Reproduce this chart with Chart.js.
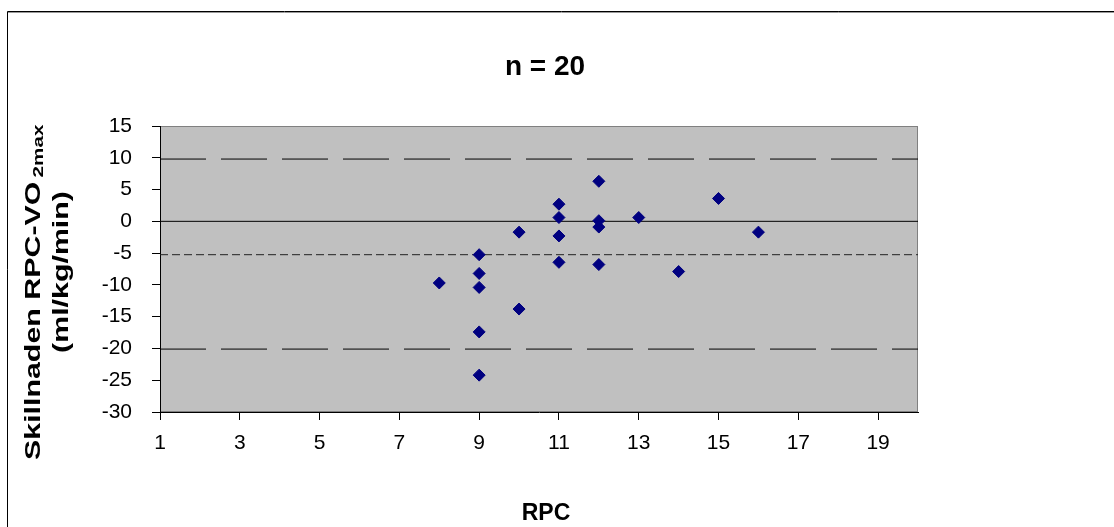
<!DOCTYPE html>
<html>
<head>
<meta charset="utf-8">
<script src="https://cdn.jsdelivr.net/npm/chart.js@4/dist/chart.umd.min.js"></script>
<style>
  html, body { margin: 0; padding: 0; background: #fff; }
  #wrap { position: relative; width: 1114px; height: 527px; }
</style>
</head>
<body>
<div id="wrap"><canvas id="chart"></canvas></div>
<script>
// RPC value and difference RPC - VO2max for each subject
const rpc = [8, 9, 9, 9, 9, 9, 10, 10, 11, 11, 11, 11, 12, 12, 12, 12, 13, 14, 15, 16];
const diff = [-9.7, -5.25, -8.2, -10.4, -17.4, -24.2, -1.7, -13.8, 2.7, 0.6, -2.3, -6.45, 6.3, 0.1, -0.9, -6.8, 0.6, -7.9, 3.6, -1.7];

// reference lines: zero, mean difference and limits of agreement
const xRange = [1, 20];
const zeroLine = 0;
const meanDiff = -5.25;
const upperLimit = 9.8;
const lowerLimit = -20.1;

const xTicks = [1, 3, 5, 7, 9, 11, 13, 15, 17, 19];
const yTicks = [-30, -25, -20, -15, -10, -5, 0, 5, 10, 15];

const FONT = 'Arial, "Liberation Sans", sans-serif';

function hLine(y) { return xRange.map(x => ({ x, y })); }

const plotBg = {
  id: 'plotBg',
  beforeDraw(chart) {
    const { ctx, chartArea: a } = chart;
    ctx.save();
    ctx.fillStyle = '#c0c0c0';
    ctx.fillRect(a.left, a.top, a.right - a.left, a.bottom - a.top);
    ctx.strokeStyle = '#808080';
    ctx.lineWidth = 1;
    ctx.strokeRect(a.left + 0.5, a.top + 0.5, a.right - a.left - 1, a.bottom - a.top - 1);
    ctx.restore();
  },
  afterDraw(chart) {
    const ctx = chart.ctx;
    ctx.save();
    // outer frame
    ctx.strokeStyle = '#000';
    ctx.lineWidth = 1;
    ctx.beginPath();
    ctx.moveTo(7.5, 600); ctx.lineTo(7.5, 11.5); ctx.lineTo(1200, 11.5);
    ctx.stroke();
    ctx.strokeStyle = '#999';
    ctx.beginPath();
    ctx.moveTo(8, 12.5); ctx.lineTo(1200, 12.5);
    ctx.stroke();

    ctx.fillStyle = '#000';
    // chart title
    ctx.font = 'bold 28px ' + FONT;
    ctx.textAlign = 'center';
    ctx.textBaseline = 'alphabetic';
    ctx.fillText('n = 20', 545, 75);
    // x title
    ctx.font = 'bold 23px ' + FONT;
    ctx.fillText('RPC', 546, 520);

    // y title, two rotated lines, first with subscript
    const stretch = 1.38;
    ctx.save();
    ctx.translate(40, 460);
    ctx.rotate(-Math.PI / 2);
    ctx.scale(stretch, 1);
    ctx.textAlign = 'left';
    ctx.font = 'bold 22px ' + FONT;
    const main = 'Skillnaden RPC-VO';
    ctx.fillText(main, 0, 0);
    const w = ctx.measureText(main).width;
    ctx.font = 'bold 15px ' + FONT;
    ctx.fillText('2max', w + 3, 3);
    ctx.restore();

    ctx.save();
    ctx.translate(68, 272);
    ctx.rotate(-Math.PI / 2);
    ctx.scale(stretch, 1);
    ctx.textAlign = 'center';
    ctx.font = 'bold 22px ' + FONT;
    ctx.fillText('(ml/kg/min)', 0, 0);
    ctx.restore();
    ctx.restore();
  }
};

const refStyle = { type: 'line', borderColor: '#000', borderWidth: 1, pointRadius: 0, fill: false, order: 2 };

new Chart(document.getElementById('chart').getContext('2d'), {
  type: 'scatter',
  data: {
    datasets: [
      { label: 'Skillnad', data: rpc.map((x, i) => ({ x, y: diff[i] })), pointStyle: 'rectRot', pointRadius: 6, pointHoverRadius: 6,
        backgroundColor: '#000080', borderColor: '#000080', borderWidth: 1, order: 1 },
      Object.assign({ label: 'Noll', data: hLine(zeroLine) }, refStyle),
      Object.assign({ label: 'Medel', data: hLine(meanDiff), borderDash: [8, 4] }, refStyle, { borderColor: '#222' }),
      Object.assign({ label: 'Övre gräns', data: hLine(upperLimit), borderDash: [46, 15] }, refStyle),
      Object.assign({ label: 'Nedre gräns', data: hLine(lowerLimit), borderDash: [46, 15] }, refStyle)
    ]
  },
  options: {
    responsive: true,
    maintainAspectRatio: false,
    animation: false,
    layout: { padding: { left: 0, top: 126, right: 196, bottom: 0 } },
    plugins: { legend: { display: false }, tooltip: { enabled: false }, title: { display: false } },
    scales: {
      x: {
        type: 'linear', min: xRange[0], max: xRange[1],
        afterBuildTicks: s => { s.ticks = xTicks.map(v => ({ value: v })); },
        afterFit: s => { s.height = 115; },
        grid: { display: true, drawOnChartArea: false, drawTicks: true, tickLength: 8, color: '#000' },
        border: { display: true, color: '#000', width: 1 },
        ticks: { color: '#000', font: { family: FONT, size: 21 }, padding: 11, maxRotation: 0 }
      },
      y: {
        type: 'linear', min: -30, max: 15,
        afterBuildTicks: s => { s.ticks = yTicks.map(v => ({ value: v })); },
        afterFit: s => { s.width = 160; },
        grid: { display: true, drawOnChartArea: false, drawTicks: true, tickLength: 8, color: '#000' },
        border: { display: true, color: '#000', width: 1 },
        ticks: { color: '#000', font: { family: FONT, size: 21 }, padding: 20 }
      }
    }
  },
  plugins: [plotBg]
});
</script>
</body>
</html>
